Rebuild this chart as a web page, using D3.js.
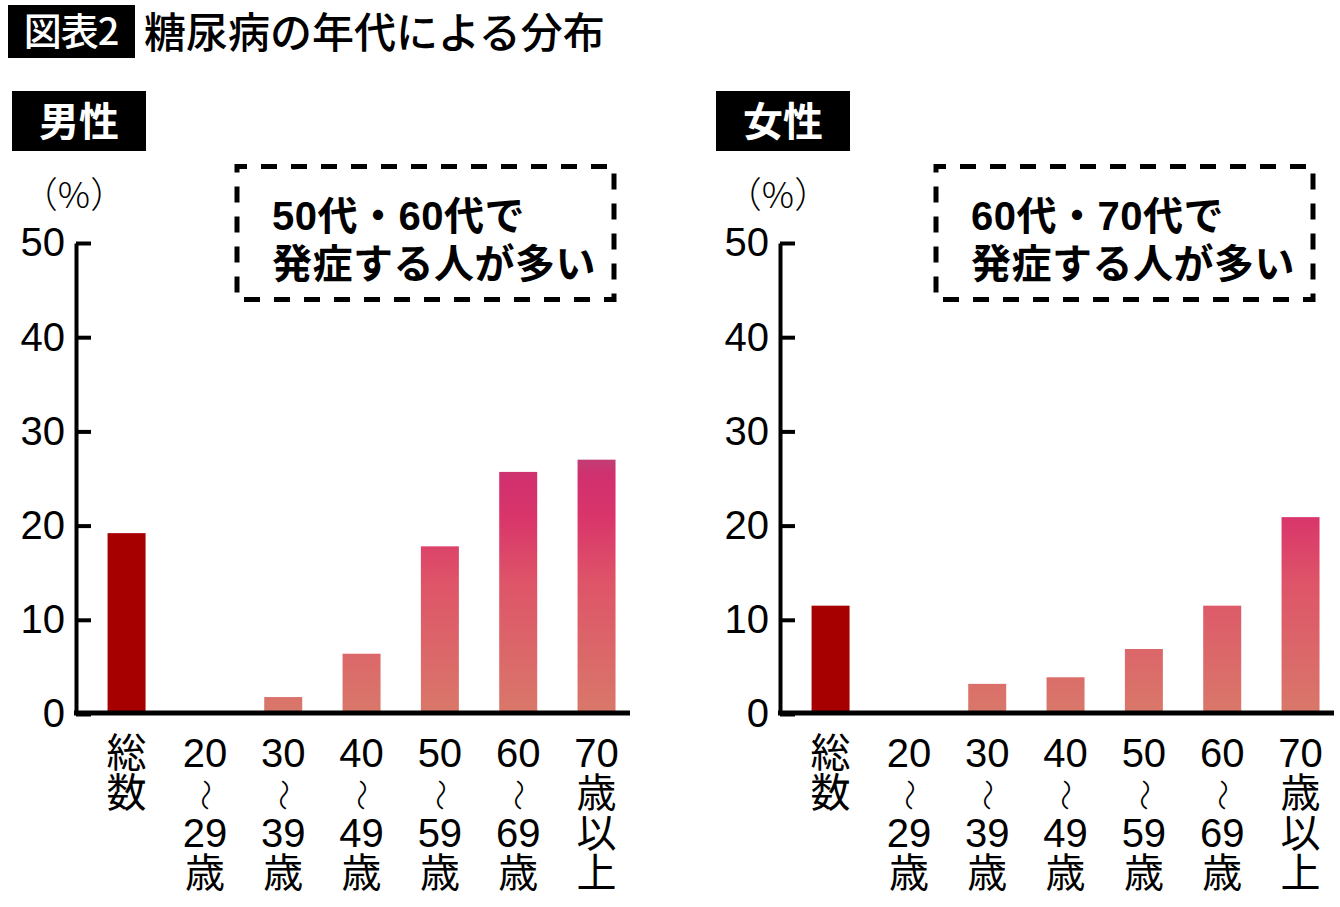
<!DOCTYPE html>
<html>
<head>
<meta charset="utf-8">
<script src="https://cdn.jsdelivr.net/npm/d3@7"></script>
<style>
  body { margin: 0; background: #fff; }
  text { font-family: "Liberation Sans", "Noto Sans CJK JP", sans-serif; }
</style>
</head>
<body>
<div id="chart"></div>
<script>
const width = 1340;
const height = 907;

// data
const categories = ["総数", "20～29歳", "30～39歳", "40～49歳", "50～59歳", "60～69歳", "70歳以上"];
const categoryLines = [
    ["総", "数"],
    ["20", "～", "29", "歳"],
    ["30", "～", "39", "歳"],
    ["40", "～", "49", "歳"],
    ["50", "～", "59", "歳"],
    ["60", "～", "69", "歳"],
    ["70", "歳", "以", "上"]
];
const maleValues = [19.2, 0, 1.8, 6.4, 17.8, 25.7, 27.0];
const femaleValues = [11.5, 0, 3.2, 3.9, 6.9, 11.5, 20.9];
const yTicks = [0, 10, 20, 30, 40, 50];

const panels = [
    { name: "男性", values: maleValues, note: ["50代・60代で", "発症する人が多い"], dx: 0, boxDx: 0 },
    { name: "女性", values: femaleValues, note: ["60代・70代で", "発症する人が多い"], dx: 704, boxDx: -5 }
];

var svg = d3.select("#chart")
    .append("svg")
    .attr("width", width)
    .attr("height", height);

// gradient shared by the age bars, runs along the value axis
const y = d3.scaleLinear().domain([0, 50]).range([714, 243]);

const grad = svg.append("defs").append("linearGradient")
    .attr("id", "barGrad")
    .attr("gradientUnits", "userSpaceOnUse")
    .attr("x1", 0).attr("x2", 0)
    .attr("y1", y(0)).attr("y2", y(28));
[[0, "#d9786a"], [0.5, "#de5468"], [0.75, "#d9356b"], [0.9, "#d0306e"], [1, "#bb4479"]]
    .forEach(s => grad.append("stop").attr("offset", s[0]).attr("stop-color", s[1]));

// title
svg.append("rect")
    .attr("x", 8).attr("y", 5)
    .attr("width", 127).attr("height", 53)
    .attr("fill", "#000");
svg.append("text")
    .attr("x", 71).attr("y", 45)
    .attr("text-anchor", "middle")
    .attr("fill", "#fff")
    .style("font-family", "'Noto Sans CJK JP'")
    .style("font-size", "38px")
    .style("font-weight", 500)
    .style("letter-spacing", "-1px")
    .text("図表2");
svg.append("text")
    .attr("x", 144).attr("y", 48)
    .attr("fill", "#000")
    .style("font-family", "'Noto Sans CJK JP'")
    .style("font-size", "42px")
    .style("font-weight", 500)
    .text("糖尿病の年代による分布");

panels.forEach(p => {
    const g = svg.append("g").attr("transform", `translate(${p.dx},0)`);

    const x = d3.scaleBand()
        .domain(categories)
        .range([87.4, 635.7])
        .paddingInner(0.515)
        .paddingOuter(0.2575);

    // panel label
    g.append("rect")
        .attr("x", 12).attr("y", 91)
        .attr("width", 134).attr("height", 60)
        .attr("fill", "#000");
    g.append("text")
        .attr("x", 79).attr("y", 136)
        .attr("text-anchor", "middle")
        .attr("fill", "#fff")
        .style("font-family", "'Noto Sans CJK JP'")
        .style("font-size", "40px")
        .style("font-weight", 700)
        .text(p.name);

    // dashed note box
    g.append("rect")
        .attr("x", 237 + p.boxDx).attr("y", 166.5)
        .attr("width", 377).attr("height", 133)
        .attr("fill", "none")
        .attr("stroke", "#000")
        .attr("stroke-width", 5)
        .attr("stroke-dasharray", "16,14")
        .attr("stroke-dashoffset", 6);
    g.selectAll(".note")
        .data(p.note)
        .join("text")
        .attr("class", "note")
        .attr("x", 272 + p.boxDx)
        .attr("y", (d, i) => 230 + i * 48)
        .style("font-size", "40px")
        .style("font-weight", 700)
        .style("letter-spacing", "0.5px")
        .text(d => d);

    // unit
    g.append("text")
        .attr("x", 74).attr("y", 208)
        .attr("text-anchor", "middle")
        .style("font-family", "'Noto Sans CJK JP'")
        .style("font-size", "36px")
        .style("font-weight", 300)
        .text("（%）");

    // bars
    g.selectAll(".bar")
        .data(p.values)
        .join("rect")
        .attr("class", "bar")
        .attr("x", (d, i) => x(categories[i]))
        .attr("width", x.bandwidth())
        .attr("y", d => y(d))
        .attr("height", d => y(0) - y(d))
        .attr("fill", (d, i) => i === 0 ? "#a60000" : "url(#barGrad)");

    // y axis, ticks pointing inward
    const yAxis = g.append("g")
        .attr("transform", "translate(76,0)")
        .call(d3.axisLeft(y).tickValues(yTicks).tickSizeInner(-15).tickSizeOuter(0).tickPadding(11));
    yAxis.select(".domain").attr("stroke", "#000").attr("stroke-width", 4);
    yAxis.selectAll(".tick line").attr("stroke", "#000").attr("stroke-width", 4);
    yAxis.selectAll(".tick text")
        .attr("fill", "#000")
        .style("font-family", "'Liberation Sans'")
        .style("font-size", "40px");

    // x axis line
    g.append("line")
        .attr("x1", 74).attr("x2", 630)
        .attr("y1", y(0) - 1).attr("y2", y(0) - 1)
        .attr("stroke", "#000")
        .attr("stroke-width", 5);

    // category labels, stacked vertically
    categoryLines.forEach((lines, i) => {
        const cx = x(categories[i]) + x.bandwidth() / 2;
        lines.forEach((t, j) => {
            const ty = 767 + j * 40;
            if (t === "～") {
                g.append("text")
                    .attr("transform", `translate(${cx},${ty - 12}) rotate(90)`)
                    .attr("text-anchor", "middle")
                    .attr("dy", "0.35em")
                    .style("font-family", "'Noto Sans CJK JP'")
                    .style("font-size", "32px")
                    .style("font-weight", 300)
                    .text(t);
            } else {
                g.append("text")
                    .attr("x", cx).attr("y", ty)
                    .attr("text-anchor", "middle")
                    .style("font-size", "40px")
                    .text(t);
            }
        });
    });
});
</script>
</body>
</html>
